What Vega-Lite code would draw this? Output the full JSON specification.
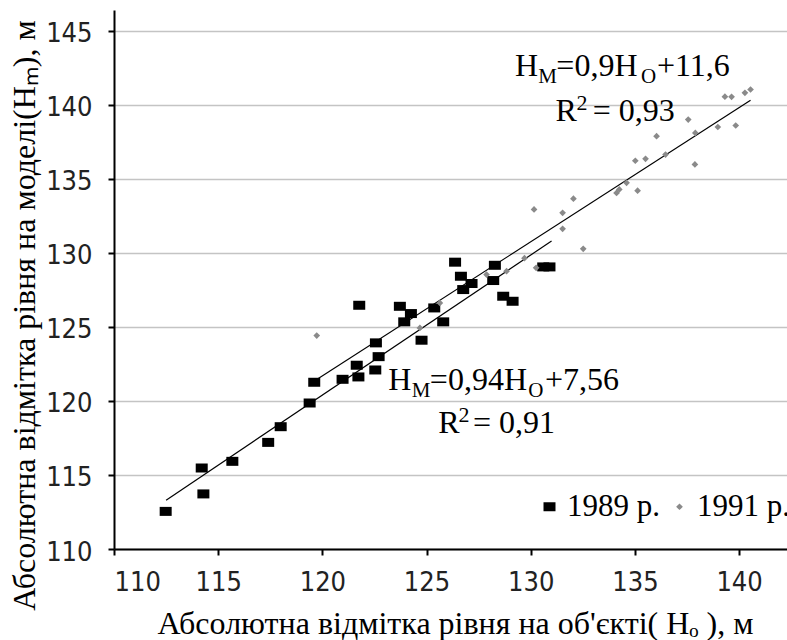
{
  "$schema": "https://vega.github.io/schema/vega-lite/v6.json",
  "width": 673,
  "height": 539,
  "autosize": {"type": "none"},
  "padding": {"left": 114, "top": 10, "right": 0, "bottom": 91},
  "background": "white",
  "config": {"view": {"stroke": null}},
  "datasets": {
    "points": [
      {"series": "1989 р.", "x": 112.48, "y": 112.54},
      {"series": "1989 р.", "x": 114.21, "y": 115.47},
      {"series": "1989 р.", "x": 114.29, "y": 113.72},
      {"series": "1989 р.", "x": 115.68, "y": 115.92},
      {"series": "1989 р.", "x": 117.4, "y": 117.2},
      {"series": "1989 р.", "x": 118.0, "y": 118.26},
      {"series": "1989 р.", "x": 119.39, "y": 119.86},
      {"series": "1989 р.", "x": 119.61, "y": 121.26},
      {"series": "1989 р.", "x": 120.97, "y": 121.46},
      {"series": "1989 р.", "x": 121.77, "y": 126.46},
      {"series": "1989 р.", "x": 121.65, "y": 122.41},
      {"series": "1989 р.", "x": 121.73, "y": 121.62},
      {"series": "1989 р.", "x": 122.57, "y": 123.92},
      {"series": "1989 р.", "x": 122.7, "y": 122.99},
      {"series": "1989 р.", "x": 122.54, "y": 122.09},
      {"series": "1989 р.", "x": 123.72, "y": 126.39},
      {"series": "1989 р.", "x": 124.25, "y": 125.9},
      {"series": "1989 р.", "x": 123.93, "y": 125.34},
      {"series": "1989 р.", "x": 124.76, "y": 124.1},
      {"series": "1989 р.", "x": 125.37, "y": 126.28},
      {"series": "1989 р.", "x": 125.8, "y": 125.34},
      {"series": "1989 р.", "x": 126.37, "y": 129.37},
      {"series": "1989 р.", "x": 126.65, "y": 128.42},
      {"series": "1989 р.", "x": 127.16, "y": 127.93},
      {"series": "1989 р.", "x": 126.76, "y": 127.52},
      {"series": "1989 р.", "x": 128.28, "y": 129.16},
      {"series": "1989 р.", "x": 128.2, "y": 128.13},
      {"series": "1989 р.", "x": 128.68, "y": 127.07},
      {"series": "1989 р.", "x": 129.13, "y": 126.73},
      {"series": "1989 р.", "x": 130.6, "y": 129.05},
      {"series": "1989 р.", "x": 130.9, "y": 129.05},
      {"series": "1991 р.", "x": 119.73, "y": 124.41},
      {"series": "1991 р.", "x": 124.68, "y": 124.93},
      {"series": "1991 р.", "x": 125.64, "y": 126.62},
      {"series": "1991 р.", "x": 127.88, "y": 128.53},
      {"series": "1991 р.", "x": 128.84, "y": 128.76},
      {"series": "1991 р.", "x": 129.7, "y": 129.64},
      {"series": "1991 р.", "x": 130.26, "y": 128.99},
      {"series": "1991 р.", "x": 130.16, "y": 132.93},
      {"series": "1991 р.", "x": 131.53, "y": 132.7},
      {"series": "1991 р.", "x": 131.53, "y": 131.62},
      {"series": "1991 р.", "x": 132.05, "y": 133.66},
      {"series": "1991 р.", "x": 132.52, "y": 130.27},
      {"series": "1991 р.", "x": 134.12, "y": 134.05},
      {"series": "1991 р.", "x": 134.25, "y": 134.28},
      {"series": "1991 р.", "x": 134.6, "y": 134.73},
      {"series": "1991 р.", "x": 135.13, "y": 134.2},
      {"series": "1991 р.", "x": 135.02, "y": 136.22},
      {"series": "1991 р.", "x": 135.51, "y": 136.35},
      {"series": "1991 р.", "x": 136.04, "y": 137.88},
      {"series": "1991 р.", "x": 136.47, "y": 136.64},
      {"series": "1991 р.", "x": 137.56, "y": 139.0},
      {"series": "1991 р.", "x": 137.9, "y": 138.1},
      {"series": "1991 р.", "x": 137.88, "y": 135.97},
      {"series": "1991 р.", "x": 138.98, "y": 138.5},
      {"series": "1991 р.", "x": 139.84, "y": 138.6},
      {"series": "1991 р.", "x": 139.32, "y": 140.55},
      {"series": "1991 р.", "x": 139.64, "y": 140.54},
      {"series": "1991 р.", "x": 140.28, "y": 140.81},
      {"series": "1991 р.", "x": 140.55, "y": 141.03}
    ],
    "trends": [
      {"series": "1989 р.", "x": 112.5, "y": 113.3},
      {"series": "1989 р.", "x": 131.0, "y": 130.8},
      {"series": "1991 р.", "x": 119.73, "y": 121.45},
      {"series": "1991 р.", "x": 140.55, "y": 140.3}
    ],
    "eqMain": [
      {"t": "H", "x": 129.24, "y": 141.91},
      {"t": "=0,9H", "x": 131.23, "y": 141.91},
      {"t": "+11,6", "x": 136.06, "y": 141.91},
      {"t": "R", "x": 131.19, "y": 138.89},
      {"t": "= 0,93", "x": 132.98, "y": 138.89},
      {"t": "H", "x": 123.16, "y": 120.76},
      {"t": "=0,94H", "x": 125.16, "y": 120.76},
      {"t": "+7,56", "x": 130.68, "y": 120.76},
      {"t": "R", "x": 125.56, "y": 117.84},
      {"t": "= 0,91", "x": 127.23, "y": 117.84}
    ],
    "eqSub": [
      {"t": "М", "x": 130.36, "y": 141.91},
      {"t": "О", "x": 135.29, "y": 141.91},
      {"t": "М", "x": 124.29, "y": 120.76},
      {"t": "О", "x": 129.88, "y": 120.76}
    ],
    "eqSup": [
      {"t": "2", "x": 132.2, "y": 138.89},
      {"t": "2", "x": 126.53, "y": 117.84}
    ]
  },
  "encoding": {
    "x": {
      "field": "x",
      "type": "quantitative",
      "scale": {"domain": [110, 142.3], "nice": false, "zero": false},
      "axis": {
        "values": [110, 115, 120, 125, 130, 135, 140],
        "grid": false,
        "domainColor": "#000",
        "domainWidth": 2,
        "tickColor": "#000",
        "tickWidth": 2,
        "tickSize": 6,
        "labelFont": "Liberation Sans Narrow, Arial Narrow, DejaVu Sans Condensed, sans-serif",
        "labelFontSize": 27,
        "labelColor": "#222",
        "labelBaseline": "alphabetic",
        "labelPadding": 35,
        "title": "Абсолютна відмітка рівня на об'єкті( Hₒ ), м",
        "titleFont": "Liberation Serif",
        "titleFontSize": 32,
        "titleFontWeight": "normal",
        "titleColor": "#000",
        "titleBaseline": "alphabetic",
        "titleY": 84,
        "titleX": 341
      }
    },
    "y": {
      "field": "y",
      "type": "quantitative",
      "scale": {"domain": [110, 146.4], "nice": false, "zero": false},
      "axis": {
        "values": [110, 115, 120, 125, 130, 135, 140, 145],
        "grid": true,
        "gridColor": "#c4c4c4",
        "gridWidth": 1.5,
        "domainColor": "#000",
        "domainWidth": 2,
        "tickColor": "#000",
        "tickWidth": 2,
        "tickSize": 6,
        "labelFont": "Liberation Sans Narrow, Arial Narrow, DejaVu Sans Condensed, sans-serif",
        "labelFontSize": 27,
        "labelColor": "#222",
        "labelPadding": 16,
        "labelOffset": 3,
        "title": "Абсолютна відмітка рівня на моделі(Hₘ), м",
        "titleFont": "Liberation Serif",
        "titleFontSize": 32,
        "titleFontWeight": "normal",
        "titleColor": "#000",
        "titleBaseline": "alphabetic",
        "titleX": -80,
        "titleY": 305
      }
    }
  },
  "layer": [
    {
      "data": {"name": "trends"},
      "mark": {"type": "line", "color": "#000", "strokeWidth": 1.2},
      "encoding": {"detail": {"field": "series", "type": "nominal"}}
    },
    {
      "data": {"name": "points"},
      "mark": {"type": "point", "filled": true, "opacity": 1, "strokeWidth": 0},
      "encoding": {
        "color": {
          "field": "series",
          "type": "nominal",
          "scale": {"domain": ["1989 р.", "1991 р."], "range": ["#000000", "#8a8a8a"]},
          "legend": {
            "orient": "none",
            "legendX": 420,
            "legendY": 481,
            "direction": "horizontal",
            "title": null,
            "labelFont": "Liberation Serif",
            "labelFontSize": 31,
            "labelColor": "#000",
            "labelOffset": 2,
            "columnPadding": 4,
            "padding": 0
          }
        },
        "shape": {
          "field": "series",
          "type": "nominal",
          "scale": {"domain": ["1989 р.", "1991 р."], "range": ["M-1.2,-0.9H1.2V0.9H-1.2Z", "diamond"]},
          "legend": {"title": null}
        },
        "size": {
          "field": "series",
          "type": "nominal",
          "scale": {"domain": ["1989 р.", "1991 р."], "range": [100, 45]},
          "legend": {"title": null}
        }
      }
    },
    {
      "data": {"name": "eqMain"},
      "mark": {"type": "text", "font": "Liberation Serif", "fontSize": 32, "align": "left", "baseline": "alphabetic", "color": "#000"},
      "encoding": {"text": {"field": "t", "type": "nominal"}}
    },
    {
      "data": {"name": "eqSub"},
      "mark": {"type": "text", "font": "Liberation Serif", "fontSize": 21, "align": "left", "baseline": "alphabetic", "dy": 7, "color": "#000"},
      "encoding": {"text": {"field": "t", "type": "nominal"}}
    },
    {
      "data": {"name": "eqSup"},
      "mark": {"type": "text", "font": "Liberation Serif", "fontSize": 22, "align": "left", "baseline": "alphabetic", "dy": -11, "color": "#000"},
      "encoding": {"text": {"field": "t", "type": "nominal"}}
    }
  ]
}
